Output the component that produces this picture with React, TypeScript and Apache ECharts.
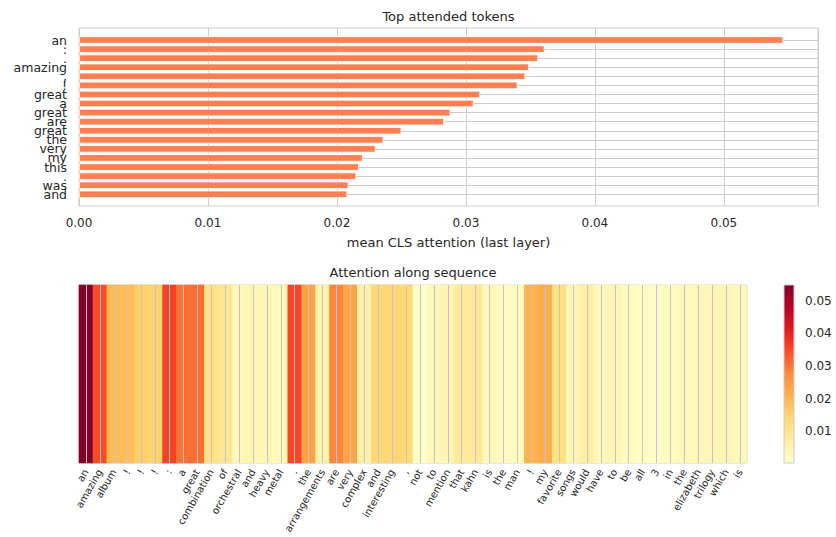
import React, { useEffect, useRef } from "react";
import * as echarts from "echarts";

const topTokens = ["an", ":", ".", "amazing", ",", "!", "great", "a", "great", "are", "great", "the", "very", "my", "this", ".", "was", "and"];
const topValues = [0.0546, 0.0361, 0.0356, 0.0349, 0.0346, 0.034, 0.0311, 0.0306, 0.0288, 0.0283, 0.025, 0.0236, 0.023, 0.022, 0.0217, 0.0215, 0.0209, 0.0208];

const seqTokens = ["an", "amazing", "album", "!", "!", "!", ":", "a", "great", "combination", "of", "orchestral", "and", "heavy", "metal", ".", "the", "arrangements", "are", "very", "complex", "and", "interesting", ",", "not", "to", "mention", "that", "kahn", "is", "the", "man", "!", "my", "favorite", "songs", "would", "have", "to", "be", "all", "3", "in", "the", "elizabeth", "trilogy", "which", "is"];
const seqValues = [0.0546, 0.0349, 0.0191, 0.0188, 0.0156, 0.0149, 0.0361, 0.0306, 0.0311, 0.0115, 0.0098, 0.0034, 0.0042, 0.0038, 0.0027, 0.0356, 0.0236, 0.0052, 0.0283, 0.023, 0.0055, 0.014, 0.0142, 0.0138, 0.0005, 0.0028, 0.0045, 0.0079, 0.0084, 0.0028, 0.002, 0.0019, 0.0205, 0.022, 0.0115, 0.0038, 0.0065, 0.003, 0.0037, 0.002, 0.0014, 0.0009, 0.0022, 0.003, 0.003, 0.004, 0.004, 0.0028];

const barXTicks = [0, 0.01, 0.02, 0.03, 0.04, 0.05];
const colorbarTicks = [0.01, 0.02, 0.03, 0.04, 0.05];
const colorMin = 0.0002;
const colorMax = 0.0549;
const barMax = 0.0573;

const ylOrRd = ["#ffffcc", "#ffeda0", "#fed976", "#feb24c", "#fd8d3c", "#fc4e2a", "#e31a1c", "#bd0026", "#800026"];

const FONT = "'DejaVu Sans', 'Liberation Sans', sans-serif";
const TEXT = "#262626";
const GRIDC = "#cccccc";

export default function App() {
  const ref = useRef<HTMLDivElement>(null);
  useEffect(() => {
    if (!ref.current) return;
    const chart = echarts.init(ref.current, null, { renderer: "svg" });
    const option: any = {
      animation: false,
      textStyle: { fontFamily: FONT, color: TEXT },
      grid: [
        { left: 79, top: 28, width: 739, height: 178, show: true, borderColor: GRIDC, borderWidth: 1, containLabel: false },
        { left: 79, top: 40, width: 739, height: 154.3, containLabel: false },
        { left: 79, top: 285, width: 668, height: 178, show: true, borderColor: GRIDC, borderWidth: 1, containLabel: false },
        { left: 85.96, top: 285, width: 654.08, height: 178, containLabel: false },
        { left: 784, top: 285, width: 10, height: 178, containLabel: false },
      ],
      xAxis: [
        {
          gridIndex: 0, type: "value", min: barXTicks[0], max: barMax, interval: 0.01,
          axisLine: { show: false }, axisTick: { show: false },
          splitLine: { show: true, lineStyle: { color: GRIDC, width: 1 } },
          axisLabel: { fontSize: 12, color: TEXT, fontFamily: FONT, margin: 11, showMaxLabel: false, formatter: (v: number) => v.toFixed(2) },
        },
        { gridIndex: 1, type: "value", min: 0, max: barMax, show: false },
        {
          gridIndex: 2, type: "category", data: seqTokens,
          axisLine: { show: false }, axisTick: { show: false }, splitLine: { show: false },
          axisLabel: { interval: 0, rotate: 60, fontSize: 10, color: TEXT, fontFamily: FONT, margin: 7 },
        },
        {
          gridIndex: 3, type: "category", data: seqTokens, boundaryGap: false, z: 5,
          axisLine: { show: false }, axisTick: { show: false }, axisLabel: { show: false },
          splitLine: { show: true, interval: 0, lineStyle: { color: "#c4c4c4", width: 1 } },
        },
        { gridIndex: 4, type: "value", show: false },
      ],
      yAxis: [
        { gridIndex: 0, type: "value", min: 0, max: 1, show: false },
        {
          gridIndex: 1, type: "category", data: topTokens, inverse: true, boundaryGap: false,
          axisLine: { show: false }, axisTick: { show: false },
          splitLine: { show: true, interval: 0, lineStyle: { color: GRIDC, width: 1 } },
          axisLabel: { interval: 0, fontSize: 12.5, color: TEXT, fontFamily: FONT, margin: 12, padding: [4, 0, 0, 0] },
        },
        { gridIndex: 2, type: "category", data: [""], show: false },
        { gridIndex: 3, type: "category", data: [""], show: false },
        {
          gridIndex: 4, type: "value", min: colorMin, max: colorMax, position: "right",
          axisLine: { show: false },
          splitLine: { show: false },
          axisTick: { show: true, length: 4, lineStyle: { color: TEXT, width: 1 }, customValues: colorbarTicks },
          axisLabel: { fontSize: 12, color: TEXT, fontFamily: FONT, margin: 11, customValues: colorbarTicks, formatter: (v: number) => v.toFixed(2) },
        },
      ],
      visualMap: {
        type: "continuous", show: false, min: colorMin, max: colorMax, seriesIndex: 1, dimension: 2,
        inRange: { color: ylOrRd },
      },
      series: [
        {
          type: "bar", xAxisIndex: 1, yAxisIndex: 1, data: topValues, barWidth: 7.4,
          itemStyle: { color: "#ff7f50", borderColor: "#ffffff", borderWidth: 0.8 },
        },
        {
          type: "heatmap", xAxisIndex: 2, yAxisIndex: 2,
          data: seqValues.map((v, i) => [i, 0, v]),
          itemStyle: { borderWidth: 0 },
        },
      ],
      graphic: [
        { type: "text", x: 448.5, y: 16, style: { text: "Top attended tokens", font: `13px ${FONT}`, fill: TEXT, textAlign: "center", textVerticalAlign: "middle" } },
        { type: "text", x: 448.5, y: 242, style: { text: "mean CLS attention (last layer)", font: `13px ${FONT}`, fill: TEXT, textAlign: "center", textVerticalAlign: "middle" } },
        { type: "text", x: 413, y: 272, style: { text: "Attention along sequence", font: `13px ${FONT}`, fill: TEXT, textAlign: "center", textVerticalAlign: "middle" } },
        {
          type: "rect", shape: { x: 784, y: 285, width: 10, height: 178 }, z: 10,
          style: {
            fill: new echarts.graphic.LinearGradient(0, 1, 0, 0, ylOrRd.map((c, i) => ({ offset: i / (ylOrRd.length - 1), color: c }))),
            stroke: GRIDC, lineWidth: 1,
          },
        },
      ],
    };
    chart.setOption(option);
    return () => chart.dispose();
  }, []);
  return <div ref={ref} style={{ position: "fixed", left: 0, top: 0, width: 836, height: 537, background: "#fff" }} />;
}
